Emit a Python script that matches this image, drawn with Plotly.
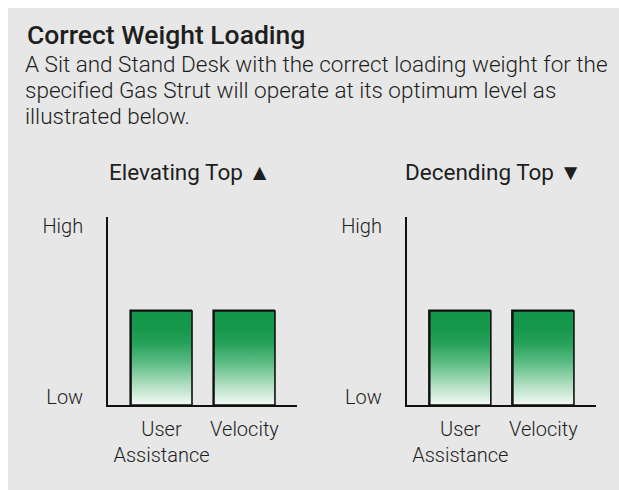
import plotly.graph_objects as go

W, H = 619, 490
OFF = 8  # page body margin (top / left)

# ---- data ----
categories = ["User<br>Assistance", "Velocity"]
elevating_values = [0.5, 0.5]
descending_values = [0.5, 0.5]
level_ticks = [0.04, 0.95]
level_labels = ["Low", "High"]
panel_titles = ["Elevating Top ▲", "Decending Top ▼"]
heading = "Correct Weight Loading"
body_lines = [
    "A Sit and Stand Desk with the correct loading weight for the",
    "specified Gas Strut will operate at its optimum level as",
    "illustrated below.",
]

BG = "#e6e7e6"
TXT = "#1e1e1e"
FONT = "Roboto"
BAR_W = 0.735
GRAD = [[0, "#f3faf5"], [0.2, "#b5e0c4"], [0.45, "#5cbd84"], [0.65, "#28a25b"], [0.8, "#17984d"], [1, "#12964a"]]


def px(x):
    return (x - OFF) / W


def py(y):
    return 1 - (y - OFF) / H


fig = go.Figure()

panels = [
    (elevating_values, "x", "y"),
    (descending_values, "x2", "y2"),
]

for vals, xa, ya in panels:
    xs_idx = list(range(len(categories)))
    for i, v in zip(xs_idx, vals):
        fig.add_trace(go.Scatter(
            x=[i - BAR_W / 2, i - BAR_W / 2, i + BAR_W / 2, i + BAR_W / 2, i - BAR_W / 2],
            y=[0, v, v, 0, 0],
            mode="lines", fill="toself",
            fillgradient=dict(type="vertical", colorscale=GRAD),
            line=dict(color="#111", width=1.6),
            xaxis=xa, yaxis=ya, hoverinfo="skip", showlegend=False,
        ))
    fig.add_trace(go.Bar(
        x=xs_idx, y=vals, width=BAR_W,
        marker=dict(color="rgba(0,0,0,0)", line=dict(color="#111", width=1.6)),
        xaxis=xa, yaxis=ya, showlegend=False, hoverinfo="skip",
    ))

ax_common_x = dict(
    range=[-0.645, 1.633], tickmode="array", tickvals=[0, 1], ticktext=categories,
    showline=True, linecolor="#111", linewidth=1.6, showgrid=False, zeroline=False,
    ticks="", tickfont=dict(family=FONT, size=20, color=TXT, weight=300),
    tickangle=0, automargin=False,
    ticklabelstandoff=5, fixedrange=True,
)
ax_common_y = dict(
    range=[0, 1], tickmode="array", tickvals=level_ticks, ticktext=level_labels,
    showline=True, linecolor="#111", linewidth=1.6, showgrid=False, zeroline=False,
    ticks="", tickfont=dict(family=FONT, size=20, color=TXT, weight=300),
    automargin=False,
    ticklabelstandoff=19, fixedrange=True,
)

fig.update_layout(
    width=W, height=H, margin=dict(l=0, r=0, t=0, b=0, autoexpand=False),
    paper_bgcolor=BG, plot_bgcolor="rgba(0,0,0,0)",
    xaxis=dict(domain=[px(108), px(297)], anchor="y", **ax_common_x),
    yaxis=dict(domain=[py(405), py(217)], anchor="x", **ax_common_y),
    xaxis2=dict(domain=[px(406.7), px(596)], anchor="y2", **ax_common_x),
    yaxis2=dict(domain=[py(405), py(217)], anchor="x2", **ax_common_y),
    showlegend=False, bargap=0,
)

fig.add_annotation(text=heading, xref="paper", yref="paper", x=px(25), y=py(35),
                   xanchor="left", yanchor="middle", showarrow=False,
                   font=dict(family=FONT, size=26.5, color=TXT, weight=500))
for k, line in enumerate(body_lines):
    fig.add_annotation(text=line, xref="paper", yref="paper", x=px(23), y=py(64 + 26 * k),
                       xanchor="left", yanchor="middle", showarrow=False,
                       font=dict(family=FONT, size=22.5, color=TXT, weight=300))

for t, cx in zip(panel_titles, [190, 494]):
    fig.add_annotation(text=t, xref="paper", yref="paper", x=px(cx), y=py(172),
                       xanchor="center", yanchor="middle", showarrow=False,
                       font=dict(family=FONT, size=22.5, color=TXT, weight=400))

fig.write_html(
    "out.html",
    post_script="document.body.style.margin='8px 0 0 8px';document.body.style.overflow='hidden';",
)
